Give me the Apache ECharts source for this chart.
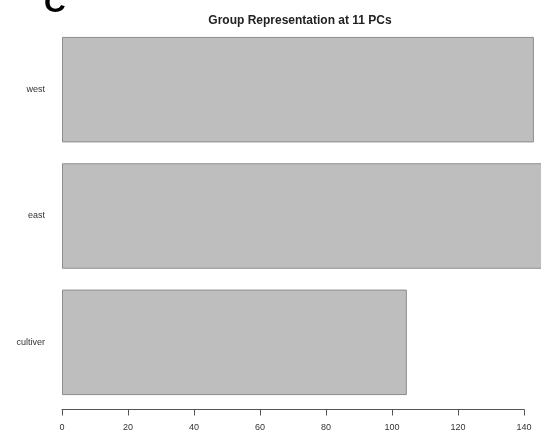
<!DOCTYPE html>
<html>
<head>
<meta charset="utf-8">
<script src="https://cdn.jsdelivr.net/npm/echarts@6/dist/echarts.min.js"></script>
<style>
  html, body { margin: 0; padding: 0; background: #fff; }
  #chart { width: 541px; height: 438px; }
</style>
</head>
<body>
<div id="chart"></div>
<script>
// Group counts at 11 PCs (top to bottom: west, east, cultiver)
const groups = ['cultiver', 'east', 'west'];
const counts = [104.5, 147, 143];
const xTicks = [0, 20, 40, 60, 80, 100, 120, 140];

const chart = echarts.init(document.getElementById('chart'), null, { renderer: 'canvas' });

chart.setOption({
  animation: false,
  backgroundColor: '#ffffff',
  title: {
    text: 'Group Representation at 11 PCs',
    left: 295,
    top: 10,
    textAlign: 'center',
    textStyle: { fontFamily: 'Liberation Sans, Arial, sans-serif', fontSize: 12, fontWeight: 'bold', color: '#222' }
  },
  graphic: [{
    type: 'text',
    left: 44,
    top: -11,
    style: { text: 'C', font: 'bold 30px "Liberation Sans", Arial, sans-serif', fill: '#000' }
  }],
  grid: { left: 62, right: 17, top: 26.5, bottom: 32.5, containLabel: false },
  xAxis: {
    type: 'value',
    min: xTicks[0],
    max: xTicks[xTicks.length - 1],
    interval: 20,
    offset: 4,
    splitLine: { show: false },
    axisLine: { show: true, lineStyle: { color: '#555', width: 1 } },
    axisTick: { show: true, length: 6, lineStyle: { color: '#555' } },
    axisLabel: { margin: 14, fontSize: 9, color: '#333', fontFamily: 'Liberation Sans, Arial, sans-serif' }
  },
  yAxis: {
    type: 'category',
    data: groups,
    axisLine: { show: false },
    axisTick: { show: false },
    axisLabel: { margin: 17, fontSize: 9, color: '#333', fontFamily: 'Liberation Sans, Arial, sans-serif' }
  },
  series: [{
    type: 'bar',
    data: counts,
    clip: false,
    barCategoryGap: '16.5%',
    itemStyle: { color: '#bebebe', borderColor: '#8c8c8c', borderWidth: 1 }
  }]
});
</script>
</body>
</html>
